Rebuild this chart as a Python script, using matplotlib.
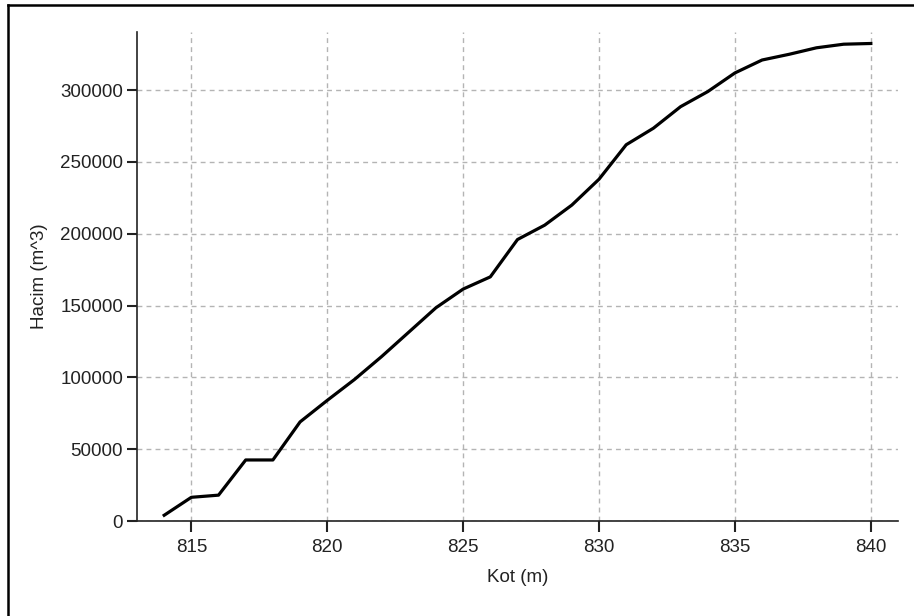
import matplotlib
matplotlib.use('Agg')
import matplotlib.pyplot as plt
from matplotlib.lines import Line2D

# reservoir elevation-volume curve
kot = [814, 815, 816, 817, 818, 819, 820, 821, 822, 823, 824, 825, 826, 827,
       828, 829, 830, 831, 832, 833, 834, 835, 836, 837, 838, 839, 840]
hacim = [4000, 16500, 18000, 42500, 42500, 69000, 84000, 98500, 114500,
         131500, 148500, 161500, 170000, 196000, 206000, 220000, 238000,
         262000, 273500, 288500, 299000, 312000, 321000, 325000, 329500,
         332000, 332500]
x_ticks = [815, 820, 825, 830, 835, 840]
y_ticks = [0, 50000, 100000, 150000, 200000, 250000, 300000]

plt.rcParams['font.family'] = ['Liberation Sans', 'DejaVu Sans']
plt.rcParams['font.size'] = 13.5

fig = plt.figure(figsize=(9.14, 6.16), dpi=100)
ax = fig.add_axes([137 / 914, 1 - 521 / 616, (898 - 137) / 914, (521 - 32) / 616])

ax.plot(kot, hacim, color='black', lw=2.3, solid_joinstyle='round')

ax.set_xlim(813, 841)
ax.set_ylim(0, 340500)
ax.set_xticks(x_ticks)
ax.set_yticks(y_ticks)
ax.set_xticklabels([str(t) for t in x_ticks])
ax.set_yticklabels([str(t) for t in y_ticks])

ax.grid(True, color='#b4b4b4', linestyle=(0, (3.5, 3)), lw=1.0)
ax.set_axisbelow(True)

for side in ('top', 'right'):
    ax.spines[side].set_visible(False)
for side in ('left', 'bottom'):
    ax.spines[side].set_linewidth(1.2)
    ax.spines[side].set_color('#222222')

ax.tick_params(axis='y', direction='out', length=7, width=1.5, pad=3, colors='#222222')
ax.tick_params(axis='x', direction='out', length=8, width=1.5, pad=5, colors='#222222')

ax.set_xlabel('Kot (m)', labelpad=9, color='#222222')
ax.set_ylabel('Hacim (m^3)', labelpad=9, color='#222222')

# frame of the screenshot
fig.add_artist(Line2D([8 / 914, 1.0], [1 - 5 / 616, 1 - 5 / 616],
                      transform=fig.transFigure, color='black', lw=1.8))
fig.add_artist(Line2D([8 / 914, 8 / 914], [0.0, 1 - 5 / 616],
                      transform=fig.transFigure, color='black', lw=1.8))

fig.savefig('out.png', dpi=100)
